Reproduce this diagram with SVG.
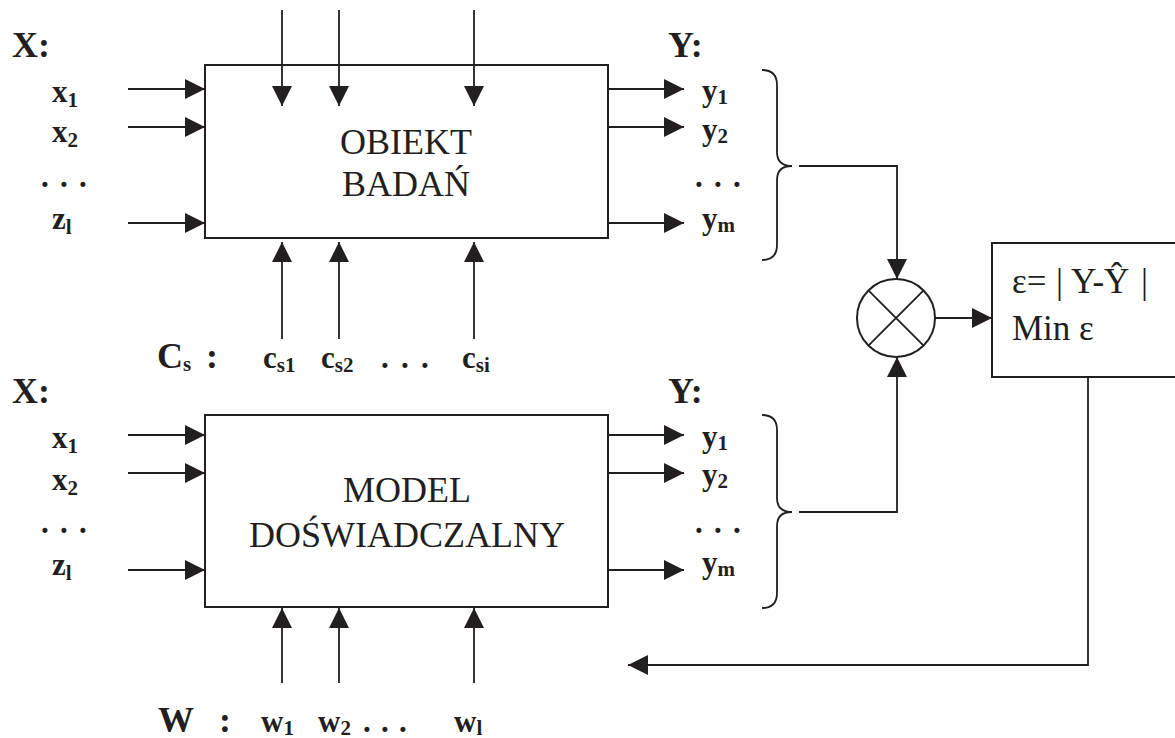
<svg xmlns="http://www.w3.org/2000/svg" width="1175" height="738" viewBox="0 0 1175 738">
<style>
.box{fill:#fff;stroke:#231f20;stroke-width:2}
.ln{fill:none;stroke:#231f20;stroke-width:1.8}
.big{font-family:"Liberation Serif","Times New Roman",serif;font-size:36px;font-weight:bold;fill:#231f20}
.lab{font-family:"Liberation Serif","Times New Roman",serif;font-size:31px;font-weight:bold;fill:#231f20}
.sub{font-size:21px}
.ttl{font-family:"Liberation Serif","Times New Roman",serif;font-size:36px;fill:#231f20;text-anchor:middle}
.eq{font-family:"Liberation Serif","Times New Roman",serif;font-size:35px;fill:#231f20}
</style>
<defs>
<marker id="ah" viewBox="0 0 20 20" refX="20" refY="10" markerWidth="20" markerHeight="20" markerUnits="userSpaceOnUse" orient="auto">
<path d="M0,0 L20,10 L0,20 z" fill="#231f20"/>
</marker>
</defs>

<g id="obiekt">
<rect class="box" x="205" y="65" width="403" height="173"/>
<text class="ttl" x="406" y="154">OBIEKT</text>
<text class="ttl" x="406" y="196">BADAŃ</text>
</g>

<g id="model">
<rect class="box" x="205" y="415" width="403" height="192"/>
<text class="ttl" x="407" y="502">MODEL</text>
<text class="ttl" x="407" y="547">DOŚWIADCZALNY</text>
</g>

<g id="mnoznik">
<circle cx="896" cy="318" r="39" fill="#fff" stroke="#231f20" stroke-width="2"/>
<path class="ln" d="M868.4,290.4 L923.6,345.6 M923.6,290.4 L868.4,345.6"/>
</g>

<g id="kryterium">
<rect class="box" x="992" y="243" width="200" height="134"/>
<text class="eq" x="1012" y="293">ε=<tspan x="1056">|</tspan><tspan x="1071">Y-Ŷ</tspan><tspan x="1141">|</tspan></text>
<text class="eq" x="1012" y="340">Min ε</text>
</g>

<g id="etykiety-gora">
<text class="big" x="12" y="57">X:</text>
<text class="lab" x="52" y="102">x<tspan class="sub" dy="5">1</tspan></text>
<text class="lab" x="52" y="142">x<tspan class="sub" dy="5">2</tspan></text>
<text class="lab" x="41 60 79" y="187">...</text>
<text class="lab" x="52" y="229">z<tspan class="sub" dy="5">l</tspan></text>
<text class="big" x="668" y="57">Y:</text>
<text class="lab" x="702" y="101">y<tspan class="sub" dy="3">1</tspan></text>
<text class="lab" x="702" y="140">y<tspan class="sub" dy="3">2</tspan></text>
<text class="lab" x="695 714 733" y="187">...</text>
<text class="lab" x="702" y="229">y<tspan class="sub" dy="3">m</tspan></text>
<text class="big" x="157" y="368">C<tspan class="sub" dy="3">s</tspan></text>
<text class="big" x="206" y="368">:</text>
<text class="lab" x="263" y="368">c<tspan class="sub" dy="4">s1</tspan></text>
<text class="lab" x="321" y="368">c<tspan class="sub" dy="4">s2</tspan></text>
<text class="lab" x="381 401 421" y="368">...</text>
<text class="lab" x="462" y="368">c<tspan class="sub" dy="4">si</tspan></text>
</g>

<g id="etykiety-dol">
<text class="big" x="12" y="403">X:</text>
<text class="lab" x="52" y="448">x<tspan class="sub" dy="5">1</tspan></text>
<text class="lab" x="52" y="490">x<tspan class="sub" dy="5">2</tspan></text>
<text class="lab" x="41 60 79" y="533">...</text>
<text class="lab" x="52" y="575">z<tspan class="sub" dy="5">l</tspan></text>
<text class="big" x="668" y="403">Y:</text>
<text class="lab" x="702" y="447">y<tspan class="sub" dy="3">1</tspan></text>
<text class="lab" x="702" y="485">y<tspan class="sub" dy="3">2</tspan></text>
<text class="lab" x="695 714 733" y="533">...</text>
<text class="lab" x="702" y="573">y<tspan class="sub" dy="3">m</tspan></text>
<text class="big" x="158" y="732">W</text>
<text class="big" x="219" y="732">:</text>
<text class="lab" x="261" y="732">w<tspan class="sub" dy="3">1</tspan></text>
<text class="lab" x="318" y="732">w<tspan class="sub" dy="3">2</tspan></text>
<text class="lab" x="363 381 399" y="732">...</text>
<text class="lab" x="454" y="732">w<tspan class="sub" dy="3">l</tspan></text>
</g>

<g id="polaczenia">
<path class="ln" marker-end="url(#ah)" d="M128,89 H205"/>
<path class="ln" marker-end="url(#ah)" d="M128,127 H205"/>
<path class="ln" marker-end="url(#ah)" d="M128,223 H205"/>
<path class="ln" marker-end="url(#ah)" d="M608,89 H684"/>
<path class="ln" marker-end="url(#ah)" d="M608,127 H684"/>
<path class="ln" marker-end="url(#ah)" d="M608,223 H684"/>
<path class="ln" marker-end="url(#ah)" d="M282,10 V106"/>
<path class="ln" marker-end="url(#ah)" d="M339,10 V106"/>
<path class="ln" marker-end="url(#ah)" d="M474,10 V106"/>
<path class="ln" marker-end="url(#ah)" d="M282,339 V242"/>
<path class="ln" marker-end="url(#ah)" d="M339,339 V242"/>
<path class="ln" marker-end="url(#ah)" d="M474,339 V242"/>
<path class="ln" marker-end="url(#ah)" d="M128,435 H205"/>
<path class="ln" marker-end="url(#ah)" d="M128,473 H205"/>
<path class="ln" marker-end="url(#ah)" d="M128,570 H205"/>
<path class="ln" marker-end="url(#ah)" d="M608,435 H684"/>
<path class="ln" marker-end="url(#ah)" d="M608,473 H684"/>
<path class="ln" marker-end="url(#ah)" d="M608,570 H684"/>
<path class="ln" marker-end="url(#ah)" d="M282,683 V608"/>
<path class="ln" marker-end="url(#ah)" d="M339,683 V608"/>
<path class="ln" marker-end="url(#ah)" d="M474,683 V608"/>
<path class="ln" d="M762,70 Q777,70 777,85 L777,152 Q777,166 792,166 Q777,166 777,180 L777,245 Q777,260 762,260"/>
<path class="ln" d="M762,415 Q777,415 777,430 L777,498 Q777,512 792,512 Q777,512 777,526 L777,593 Q777,608 762,608"/>
<path class="ln" marker-end="url(#ah)" d="M799,166 H897 V279"/>
<path class="ln" marker-end="url(#ah)" d="M799,512 H897 V357"/>
<path class="ln" marker-end="url(#ah)" d="M935,318 H992"/>
<path class="ln" marker-end="url(#ah)" d="M1088,377 V665 H628"/>
</g>
</svg>
